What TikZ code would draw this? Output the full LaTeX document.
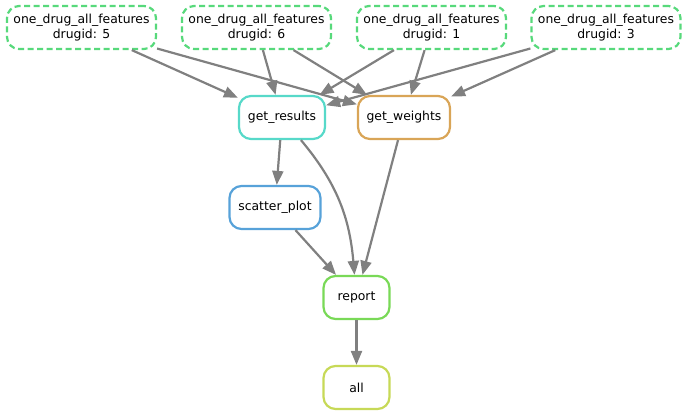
\documentclass[tikz,border=0pt]{standalone}
\usepackage{fontspec}
\setmainfont{DejaVu Sans}
\usetikzlibrary{arrows.meta}
\definecolor{cgw}{RGB}{217,165,87}
\definecolor{call}{RGB}{199,217,87}
\definecolor{crep}{RGB}{121,217,87}
\definecolor{codf}{RGB}{87,217,123}
\definecolor{cgr}{RGB}{87,217,201}
\definecolor{csp}{RGB}{87,162,217}
\definecolor{cedge}{RGB}{128,128,128}
\tikzset{
  rule/.style={draw, rounded corners=12pt, line width=2.2pt, minimum height=43pt, inner sep=0pt,
    align=center, font=\fontsize{12.4}{15.2}\selectfont, text=black, fill=white},
  odf/.style={rule, draw=codf, dash pattern=on 6pt off 3.5pt, minimum width=149pt},
  conn/.style={draw=cedge, line width=2.2pt, -{Triangle[length=14pt,width=11pt]}},
}
\begin{document}
\begin{tikzpicture}[x=1pt,y=1pt]
\useasboundingbox (0,0) rectangle (688,-415);
\node[odf] (n5) at (81.5,-27.5) {one\_drug\_all\_features\\drugid: 5};
\node[odf] (n6) at (256.5,-27.5) {one\_drug\_all\_features\\drugid: 6};
\node[odf] (n1) at (431.5,-27.5) {one\_drug\_all\_features\\drugid: 1};
\node[odf] (n3) at (606,-27.5) {one\_drug\_all\_features\\drugid: 3};
\node[rule, draw=cgr, minimum width=86pt] (gr) at (282,-117.5) {get\_results};
\node[rule, draw=cgw, minimum width=92pt] (gw) at (404,-117.5) {get\_weights};
\node[rule, draw=csp, minimum width=91pt] (sp) at (275,-207.5) {scatter\_plot};
\node[rule, draw=crep, minimum width=66pt] (rep) at (356.5,-297.5) {report};
\node[rule, draw=call, minimum width=66pt] (all) at (356.5,-387.5) {all};
\path[conn] (n5) -- (gr);
\path[conn] (n5) -- (gw);
\path[conn] (n6) -- (gr);
\path[conn] (n6) -- (gw);
\path[conn] (n1) -- (gr);
\path[conn] (n1) -- (gw);
\path[conn] (n3) -- (gr);
\path[conn] (n3) -- (gw);
\path[conn] (gr) -- (sp);
\path[conn] (gr) to[out=-50,in=95] (rep);
\path[conn] (gw) -- (rep);
\path[conn] (sp) -- (rep);
\path[conn] (rep) -- (all);
\end{tikzpicture}
\end{document}
